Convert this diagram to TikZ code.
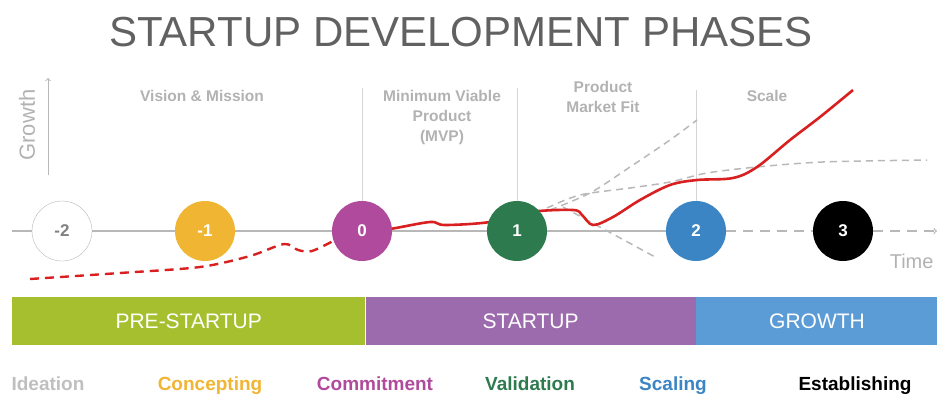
\documentclass[tikz,border=0pt]{standalone}
\usepackage{fontspec}
\setmainfont{Liberation Sans}
\usepackage{tikz}
\usetikzlibrary{arrows}
\usetikzlibrary{positioning}
\definecolor{titleGrey}{rgb}{0.38,0.38,0.38}
\definecolor{axisGrey}{rgb}{0.72,0.72,0.72}
\definecolor{labelGrey}{rgb}{0.70,0.70,0.70}
\definecolor{curveRed}{rgb}{0.85,0.12,0.12}
\definecolor{ideaGrey}{rgb}{0.75,0.75,0.75}
\definecolor{conceptYellow}{rgb}{0.94,0.71,0.20}
\definecolor{commitMagenta}{rgb}{0.69,0.29,0.61}
\definecolor{validGreen}{rgb}{0.18,0.48,0.31}
\definecolor{scaleBlue}{rgb}{0.23,0.52,0.77}
\definecolor{preGreen}{rgb}{0.65,0.75,0.18}
\definecolor{startPurple}{rgb}{0.61,0.42,0.68}
\definecolor{growBlue}{rgb}{0.36,0.61,0.84}
\tikzstyle{phase} = [circle, minimum size=60pt, inner sep=0pt, text=white,
        font={\bfseries\fontsize{17}{17}\selectfont}]
\tikzstyle{band} = [rectangle, minimum height=48pt, inner sep=0pt, text=white,
        font={\fontsize{21}{21}\selectfont}]
\tikzstyle{heading} = [text=labelGrey, align=center,
        font={\bfseries\fontsize{15.5}{20}\selectfont}]
\tikzstyle{stage} = [anchor=base, font={\bfseries\fontsize{19}{19}\selectfont}]
\tikzstyle{divider} = [draw=axisGrey!60, line width=0.6pt]
\tikzstyle{guide} = [draw=axisGrey, line width=1.5pt, dash pattern=on 7pt off 5pt]

\begin{document}
\begin{tikzpicture}[x=1pt, y=-1pt]
    \useasboundingbox (0,0) rectangle (937,394);
    \node[text=titleGrey, font={\fontsize{42}{42}\selectfont}] (title) at (461,32) {STARTUP DEVELOPMENT PHASES};

    % axes
    \coordinate (origin) at (12,231);
    \coordinate (gbase) at (48,175);
    \coordinate (gtop) at (48,78);
    \coordinate (tend) at (937,231);
    \draw[axisGrey, line width=1pt, ->] (gbase) -- (gtop);
    \node[text=labelGrey, rotate=90, font={\fontsize{22}{22}\selectfont}] (growth) at (27,125) {Growth};

    % phase dividers
    \coordinate (d0) at (362,88);
    \coordinate (d1) at (517,88);
    \coordinate (d2) at (696,90);
    \draw[divider] (d0) -- (362,210);
    \draw[divider] (d1) -- (517,210);
    \draw[divider] (d2) -- (696,210);

    \node[heading] (vision) at (202,96) {Vision \& Mission};
    \node[heading] (mvp) at (442,117) {Minimum Viable\\Product\\(MVP)};
    \node[heading] (fit) at (603,97) {Product\\Market Fit};
    \node[heading] (scale) at (767,96) {Scale};

    % alternative paths after validation
    \draw[guide] plot[smooth] coordinates {(550,210) (590,193) (630,167) (670,140) (697,120)};
    \draw[guide] plot[smooth] coordinates {(547,208) (580,195) (630,188) (670,182) (707,173) (757,167) (823,162) (927,160)};
    \draw[guide] (563,207) -- (657,258);

    % growth curve
    \draw[curveRed, line width=2.4pt, dash pattern=on 9pt off 6pt]
        plot[smooth] coordinates {(30,279) (120,273) (200,267) (250,256) (284,244) (298,250) (312,251) (335,240)};
    \draw[curveRed, line width=2.6pt]
        plot[smooth, tension=0.55] coordinates {(362,232) (390,229) (430,222) (445,225) (490,222) (530,212) (573,210) (582,215) (593,225) (613,217) (640,200) (670,185) (697,180) (733,178) (757,167) (790,140) (820,117) (853,90)};

    % milestones
    \node[phase, draw=axisGrey, fill=white, text=titleGrey!80] (m2) at (62,231) {-2};
    \node[phase, fill=conceptYellow] (m1) at (205,231) {-1};
    \node[phase, fill=commitMagenta] (p0) at (362,231) {0};
    \node[phase, fill=validGreen] (p1) at (517,231) {1};
    \node[phase, fill=scaleBlue] (p2) at (696,231) {2};
    \node[phase, fill=black] (p3) at (843,231) {3};

    \draw[axisGrey, line width=1.3pt] (origin) -- (m2) -- (m1) -- (p0) -- (p1) -- (p2);
    \draw[axisGrey, line width=1.3pt, dash pattern=on 10pt off 7pt] (p2) -- (p3);
    \draw[axisGrey, line width=1.3pt, dash pattern=on 10pt off 7pt, ->] (p3) -- (tend);
    \node[text=labelGrey, anchor=base east, font={\fontsize{20}{20}\selectfont}] (time) at (937,268) {Time};

    % phase bands
    \node[band, fill=preGreen, minimum width=353pt, anchor=north west] (pre) at (12,297) {PRE-STARTUP};
    \node[band, fill=startPurple, minimum width=330pt, right=0pt of pre] (startup) {STARTUP};
    \node[band, fill=growBlue, minimum width=242pt, right=0pt of startup] (grow) {GROWTH};

    % stage names
    \node[stage, text=ideaGrey] (ideation) at (48,390) {Ideation};
    \node[stage, text=conceptYellow] (concepting) at (210,390) {Concepting};
    \node[stage, text=commitMagenta] (commitment) at (375,390) {Commitment};
    \node[stage, text=validGreen] (validation) at (530,390) {Validation};
    \node[stage, text=scaleBlue] (scaling) at (673,390) {Scaling};
    \node[stage, text=black] (establishing) at (855,390) {Establishing};
\end{tikzpicture}
\end{document}
